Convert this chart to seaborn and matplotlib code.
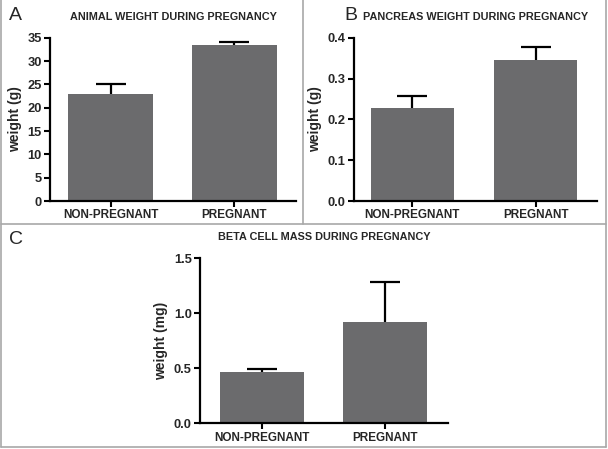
import matplotlib
matplotlib.use("Agg")
import matplotlib.pyplot as plt
import seaborn as sns
from matplotlib.lines import Line2D

groups = ["NON-PREGNANT", "PREGNANT"]

animal_weight = [23.0, 33.4]
animal_err = [2.1, 0.7]

pancreas_weight = [0.229, 0.345]
pancreas_err = [0.029, 0.031]

beta_mass = [0.469, 0.918]
beta_err = [0.025, 0.364]

sns.set_style("white")
plt.rcParams['font.family'] = ['Liberation Sans', 'DejaVu Sans']

bar_color = "#6b6b6d"
fig = plt.figure(figsize=(6.08, 4.49), dpi=100)

W, H = 608.0, 449.0


def px_axes(left, top, right, bottom):
    return fig.add_axes([left / W, 1 - bottom / H, (right - left) / W, (bottom - top) / H])


def panel(ax, vals, errs, title, ylabel, ymax, yticks, fmt, width, xlim):
    sns.barplot(x=groups, y=vals, color=bar_color, width=width, saturation=1,
                errorbar=None, ax=ax, edgecolor=bar_color, linewidth=0)
    eb = ax.errorbar(range(len(vals)), vals, yerr=[[0] * len(vals), errs], fmt="none",
                     ecolor="black", elinewidth=1.6, capsize=11, capthick=1.6)
    # only the upper cap, like the original
    eb[1][0].set_visible(False)
    ax.set_ylim(0, ymax)
    ax.set_xlim(*xlim)
    ax.set_yticks(yticks)
    ax.set_yticklabels([fmt.format(t) for t in yticks], fontsize=9.3, fontweight="bold")
    ax.set_xticks(range(len(groups)))
    ax.set_xticklabels(groups, fontsize=8.5, fontweight="bold")
    ax.set_ylabel(ylabel, fontsize=10, fontweight="bold", labelpad=4)
    ax.set_title(title, fontsize=7.8, fontweight="bold", pad=13)
    sns.despine(ax=ax)
    for s in ("left", "bottom"):
        ax.spines[s].set_linewidth(1.6)
        ax.spines[s].set_color("black")
    ax.tick_params(axis="both", which="both", direction="out", length=4, width=1.5,
                   color="black", pad=2, left=True, bottom=True)


axA = px_axes(50, 37.7, 296, 201)
panel(axA, animal_weight, animal_err, "ANIMAL WEIGHT DURING PREGNANCY", "weight (g)",
      35, [0, 5, 10, 15, 20, 25, 30, 35], "{:g}", 0.69, (-0.49, 1.5))

axB = px_axes(354, 37.7, 597, 201)
panel(axB, pancreas_weight, pancreas_err, "PANCREAS WEIGHT DURING PREGNANCY", "weight (g)",
      0.4, [0.0, 0.1, 0.2, 0.3, 0.4], "{:.1f}", 0.676, (-0.473, 1.499))

axC = px_axes(200, 258.3, 448, 423.3)
panel(axC, beta_mass, beta_err, "BETA CELL MASS DURING PREGNANCY", "weight (mg)",
      1.5, [0.0, 0.5, 1.0, 1.5], "{:.1f}", 0.683, (-0.504, 1.512))

# panel letters
for letter, x, y in [("A", 15, 16), ("B", 351, 16), ("C", 16, 239)]:
    fig.text(x / W, 1 - y / H, letter, fontsize=14, ha="center", va="center")

# panel frame lines
grey = "#a8a8a8"
frame = [
    ((1, 1), (0, 447)),
    ((606, 606), (0, 447)),
    ((1, 606), (447, 447)),
    ((1, 606), (224, 224)),
    ((303, 303), (0, 224)),
]
for xs, ys in frame:
    fig.add_artist(Line2D([x / W for x in xs], [1 - y / H for y in ys],
                          color=grey, linewidth=1.2, transform=fig.transFigure))

fig.savefig("out.png", dpi=100)
